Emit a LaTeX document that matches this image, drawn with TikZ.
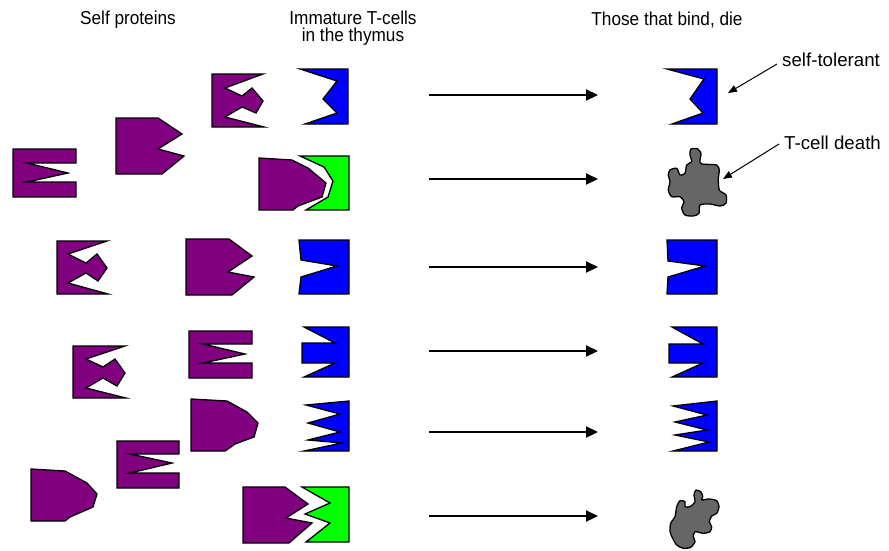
\documentclass[tikz,border=0pt]{standalone}
\usepackage{fontspec}
\setmainfont{Liberation Sans}
\usetikzlibrary{arrows.meta}
\definecolor{protein}{HTML}{800080}
\definecolor{tcell}{HTML}{0000FF}
\definecolor{bound}{HTML}{00FF00}
\definecolor{dead}{HTML}{666666}
\begin{document}
\begin{tikzpicture}[x=1pt,y=-1pt,
  piece/.style={draw=black, line width=1.3pt, line join=miter},
  prot/.style={piece, fill=protein},
  cell/.style={piece, fill=tcell},
  hit/.style={piece, fill=bound},
  corpse/.style={piece, fill=dead, line join=round},
  lbl/.style={font=\fontsize{18.7}{17}\selectfont, inner sep=0pt},
  heading/.style={lbl, xscale=0.92, transform shape},
  fate/.style={line width=2.2pt, -{Triangle[length=12pt,width=11pt]}},
  callout/.style={line width=1pt, -{Triangle[length=9pt,width=7pt]}}]
\useasboundingbox (0,0) rectangle (889,550);

% column headings
\node[heading] (hdrA) at (128,20) {Self proteins};
\node[heading, align=center] (hdrB) at (353,28) {Immature T-cells\\in the thymus};
\node[heading] (hdrC) at (667,20) {Those that bind, die};

% ---- self proteins (left cluster) ----
% comb, row 2
\draw[prot] (13,149) -- (76,149) -- (76,163) -- (27,163) -- (68,173) -- (27,182)
  -- (76,182) -- (76,197) -- (13,197) -- cycle;
% notched block, row 1-2
\draw[prot] (116,118) -- (158,118) -- (182,134) -- (158,149) -- (184,156)
  -- (162,174) -- (116,174) -- cycle;
% double-notch with bump, row 1
\draw[prot] (212,74) -- (263,74) -- (225,88) -- (242,96) -- (252,88) -- (263,101)
  -- (256,113) -- (242,107) -- (225,117) -- (264,127) -- (212,127) -- cycle;
% rounded nose bound to green cell, row 2
\draw[prot] (259,158) -- (292,160) -- (308,168) -- (326,183) -- (322,197)
  -- (298,206) -- (293,210) -- (259,210) -- cycle;
% double-notch with bump, row 3
\draw[prot] (57,241) -- (107,241) -- (68,254) -- (86,263) -- (97,254) -- (107,268)
  -- (98,281) -- (86,273) -- (68,283) -- (108,294) -- (57,294) -- cycle;
% notched block, row 3
\draw[prot] (186,239) -- (229,239) -- (252,256) -- (228,272) -- (254,277)
  -- (232,295) -- (186,295) -- cycle;
% double-notch with bump, row 4
\draw[prot] (73,346) -- (125,346) -- (86,359) -- (103,367) -- (115,359) -- (125,373)
  -- (117,386) -- (103,378) -- (86,388) -- (126,398) -- (73,398) -- cycle;
% comb, row 4
\draw[prot] (189,331) -- (252,331) -- (252,344) -- (203,344) -- (245,354) -- (203,363)
  -- (252,363) -- (252,378) -- (189,378) -- cycle;
% rounded nose, row 5
\draw[prot] (191,399) -- (227,401) -- (247,412) -- (258,423) -- (254,437)
  -- (235,444) -- (225,451) -- (191,451) -- cycle;
% comb, row 5-6
\draw[prot] (117,441) -- (179,441) -- (179,454) -- (130,454) -- (172,463) -- (130,473)
  -- (179,473) -- (179,488) -- (117,488) -- cycle;
% rounded nose, row 6
\draw[prot] (31,469) -- (65,471) -- (87,483) -- (97,494) -- (93,507)
  -- (70,517) -- (65,521) -- (31,521) -- cycle;
% notched block bound to green cell, row 6
\draw[prot] (243,487) -- (285,487) -- (308,504) -- (286,518) -- (312,523)
  -- (289,543) -- (243,543) -- cycle;

% ---- immature T-cells ----
\draw[cell] (300,69) -- (348,69) -- (348,124) -- (305,124) -- (337,113) -- (323,99)
  -- (337,81) -- cycle;
\draw[hit] (300,156) -- (349,156) -- (349,210) -- (306,210) -- (328,197) -- (333,181)
  -- (324,167) -- cycle;
\draw[cell] (299,240) -- (349,240) -- (349,294) -- (299,294) -- (301,277) -- (337,266)
  -- (301,260) -- cycle;
\draw[cell] (304,327) -- (349,327) -- (349,377) -- (304,377) -- (335,363) -- (302,363)
  -- (302,343) -- (335,343) -- cycle;
\draw[cell] (306,405) -- (349,401) -- (349,451) -- (304,451) -- (342,443) -- (308,440)
  -- (340,432) -- (308,423) -- (340,414) -- cycle;
\draw[hit] (302,487) -- (349,487) -- (349,542) -- (306,542) -- (330,523) -- (305,514)
  -- (330,503) -- cycle;

% ---- fate arrows ----
\foreach \r/\y in {1/95, 2/179, 3/267, 4/351, 5/432, 6/516} {
  \coordinate (src\r) at (429,\y);
  \coordinate (dst\r) at (598,\y);
  \draw[fate] (src\r) -- (dst\r);
}

% ---- outcomes ----
\draw[cell] (667,69) -- (717,69) -- (717,124) -- (672,124) -- (703,113) -- (690,99)
  -- (704,79) -- cycle;
\draw[corpse] plot[smooth cycle, tension=0.45] coordinates {
  (690.7,149.3) (697.3,148.7) (701,153.3) (700,160) (701.7,164) (716.7,165)
  (719.3,170.7) (718.3,178.3) (719.3,190) (726,195) (726,203.3) (720,206)
  (710,204) (700,205) (699,213.3) (693.3,216) (685,215) (681.7,208.3)
  (684,201.7) (680,196.7) (671.7,196.7) (668.3,190) (670,181.7) (668.3,175)
  (670,170) (676.7,168.3) (680,175) (685,173.3) (686.7,165) (691.7,161.7)
  (690,155)};
\draw[cell] (667,240) -- (717,240) -- (717,294) -- (667,294) -- (668,277) -- (705,266)
  -- (668,261) -- cycle;
\draw[cell] (672,327) -- (717,327) -- (717,377) -- (672,377) -- (703,363) -- (669,363)
  -- (669,344) -- (703,344) -- cycle;
\draw[cell] (673,406) -- (717,401) -- (717,451) -- (673,451) -- (709,442) -- (675,435)
  -- (707,430) -- (675,422) -- (707,415) -- cycle;
\draw[corpse] plot[smooth cycle, tension=0.45] coordinates {
  (696,490) (701,492) (702.7,496.7) (701.7,500) (709,499) (716.7,500.7)
  (719,506.7) (716.7,513.3) (711.7,516) (709.3,521.7) (711.7,526.7) (710,531.7)
  (703.3,533.3) (695,531.7) (693.3,536.7) (695,541.7) (690.7,547.3) (683.3,548.3)
  (676.7,545) (672.7,538.3) (670,531.7) (670.7,523.3) (675,516.7) (676.7,506.7)
  (680,500.7) (685,501.7) (685,506.7) (690,506.7) (695,501.7) (694,495)};

% ---- callouts ----
\node[lbl, anchor=west] (tolerant) at (782,60) {self-tolerant};
\node[lbl, anchor=west] (death) at (784,143) {T-cell death};
\coordinate (tolTip) at (728,93);
\coordinate (deathTip) at (723,179);
\draw[callout] ([shift={(-5,4)}]tolerant.west) -- (tolTip);
\draw[callout] ([shift={(-5,1)}]death.west) -- (deathTip);
\end{tikzpicture}
\end{document}
